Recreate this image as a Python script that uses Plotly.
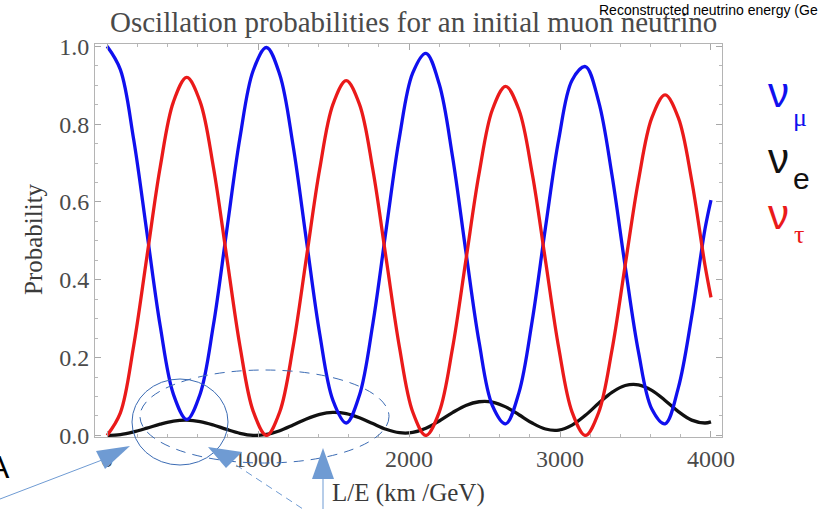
import plotly.graph_objects as go

# ---- data ----
le_km_per_gev = [0, 88, 176, 264, 352, 440, 528, 616, 704, 792, 880, 968,
                 1056, 1144, 1232, 1320, 1408, 1496, 1584, 1672, 1760, 1848, 1936, 2024,
                 2112, 2200, 2288, 2376, 2464, 2552, 2640, 2728, 2816, 2904, 2992, 3080,
                 3168, 3256, 3344, 3432, 3520, 3608, 3696, 3784, 3872, 3960, 4000]

p_mu = [1.000, 0.940, 0.761, 0.521, 0.281, 0.105, 0.041, 0.106, 0.283, 0.525, 0.765, 0.938,
        0.997, 0.927, 0.745, 0.502, 0.262, 0.090, 0.032, 0.104, 0.286, 0.528, 0.765, 0.931,
        0.982, 0.903, 0.717, 0.474, 0.240, 0.077, 0.030, 0.110, 0.295, 0.535, 0.762, 0.913,
        0.948, 0.858, 0.670, 0.434, 0.214, 0.068, 0.030, 0.123, 0.305, 0.530, 0.605]

p_tau = [0.000, 0.058, 0.230, 0.460, 0.690, 0.858, 0.920, 0.858, 0.690, 0.460, 0.230, 0.062,
         0.000, 0.061, 0.228, 0.456, 0.684, 0.851, 0.912, 0.851, 0.684, 0.456, 0.228, 0.061,
         0.000, 0.060, 0.224, 0.449, 0.673, 0.837, 0.897, 0.837, 0.673, 0.449, 0.224, 0.060,
         0.000, 0.059, 0.219, 0.438, 0.656, 0.816, 0.875, 0.816, 0.656, 0.438, 0.355]

p_e = [0.000, 0.0024, 0.0093, 0.0188, 0.029, 0.0369, 0.0393, 0.0356, 0.0268, 0.0155, 0.0055, 0.0002,
       0.0026, 0.0122, 0.0268, 0.0423, 0.0542, 0.0592, 0.0562, 0.0455, 0.0304, 0.0158, 0.0070, 0.0076,
       0.0185, 0.0372, 0.0587, 0.0770, 0.0866, 0.0857, 0.0734, 0.0532, 0.0318, 0.0165, 0.0139, 0.0266,
       0.0517, 0.0826, 0.1108, 0.1283, 0.1301, 0.1158, 0.0900, 0.0613, 0.0393, 0.0320, 0.0350]

x_ticks = [0, 1000, 2000, 3000, 4000]
y_ticks = [0.0, 0.2, 0.4, 0.6, 0.8, 1.0]
y_tick_text = ["0.0", "0.2", "0.4", "0.6", "0.8", "1.0"]

# ---- layout geometry (pixels) ----
W, H = 822, 509
L, R, T, B = 95, 100, 44, 72
PW, PH = W - L - R, H - T - B


def px(x, y):
    return (x - L) / PW, (H - B - y) / PH


SERIF = "Liberation Serif, Times New Roman, serif"
SANS = "Liberation Sans, Arial, sans-serif"
BLUE = "#1010ee"
RED = "#ea1a1a"
BLACK = "#111111"
ANN = "#6f9bd3"

fig = go.Figure()
fig.add_trace(go.Scatter(x=le_km_per_gev, y=p_e, mode="lines",
                         line=dict(color=BLACK, width=3.3, shape="spline"), showlegend=False))
fig.add_trace(go.Scatter(x=le_km_per_gev, y=p_mu, mode="lines",
                         line=dict(color=BLUE, width=3.3, shape="spline"), showlegend=False))
fig.add_trace(go.Scatter(x=le_km_per_gev, y=p_tau, mode="lines",
                         line=dict(color=RED, width=3.3, shape="spline"), showlegend=False))

axis_common = dict(showgrid=False, zeroline=False, showline=True, linecolor="#b4b4b4",
                   linewidth=1, mirror="allticks", ticks="inside", tickcolor="#a8a8a8",
                   ticklen=6, tickwidth=1,
                   tickfont=dict(family=SERIF, size=24, color="#4a4a4a"))

fig.update_xaxes(range=[-80, 4073], tickvals=x_ticks, ticktext=[str(v) for v in x_ticks],
                 minor=dict(dtick=200, ticks="inside", ticklen=3, tickcolor="#b8b8b8"),
                 **axis_common)
fig.update_yaxes(range=[-0.004, 1.006], tickvals=y_ticks, ticktext=y_tick_text,
                 minor=dict(dtick=0.05, ticks="inside", ticklen=3, tickcolor="#b8b8b8"),
                 **axis_common)

annotations = []


def add_text(x, y, text, size, color, family=SERIF, xanchor="center", yanchor="middle", angle=0):
    xp, yp = px(x, y)
    annotations.append(dict(x=xp, y=yp, xref="paper", yref="paper", text=text, showarrow=False,
                            xanchor=xanchor, yanchor=yanchor, textangle=angle,
                            font=dict(family=family, size=size, color=color)))


add_text(413, 22, "Oscillation probabilities for an initial muon neutrino", 29, "#4a4a4a")
add_text(33, 239, "Probability", 25, "#3a3a3a", angle=-90)
add_text(408, 493, "L/E (km /GeV)", 25, "#3a3a3a")
add_text(597, 10, "Reconstructed neutrino energy (Ge", 14, "#000000", family=SANS, xanchor="left")

# neutrino flavour labels
add_text(766, 92, "ν", 42, BLUE, family=SANS, xanchor="left")
add_text(791, 117, "μ", 26, BLUE, family=SERIF, xanchor="left")
add_text(766, 158, "ν", 42, BLACK, family=SANS, xanchor="left")
add_text(791, 178, "e", 30, BLACK, family=SANS, xanchor="left")
add_text(766, 214, "ν", 42, RED, family=SANS, xanchor="left")
add_text(792, 235, "τ", 26, RED, family=SERIF, xanchor="left")

# slide fragments at the left edge
add_text(12, 467, "A", 32, "#000000", family=SANS, xanchor="right")
add_text(0, 505, "ms", 22, "#000000", family=SANS, xanchor="left", yanchor="top")

shapes = []


def line(x0, y0, x1, y1, color, width=1, dash="solid"):
    a, b = px(x0, y0)
    c, d = px(x1, y1)
    shapes.append(dict(type="line", xref="paper", yref="paper", x0=a, y0=b, x1=c, y1=d,
                       line=dict(color=color, width=width, dash=dash)))


def tri(p1, p2, p3, color):
    pts = [px(*p) for p in (p1, p2, p3)]
    path = "M {} {} L {} {} L {} {} Z".format(pts[0][0], pts[0][1], pts[1][0], pts[1][1],
                                              pts[2][0], pts[2][1])
    shapes.append(dict(type="path", xref="paper", yref="paper", path=path,
                       fillcolor=color, line=dict(width=0)))


def ellipse(x0, y0, x1, y1, color, width=1, dash="solid"):
    a, b = px(x0, y1)
    c, d = px(x1, y0)
    shapes.append(dict(type="circle", xref="paper", yref="paper", x0=a, y0=b, x1=c, y1=d,
                       line=dict(color=color, width=width, dash=dash)))


ellipse(132, 379, 228, 465, "#3c6cb4", 1)
ellipse(140, 370, 389, 463, "#3c6cb4", 1, dash="10px,7px")
line(0, 499, 102, 460, ANN, 1)
tri((96, 451), (105, 469), (130, 446), ANN)
line(236, 465, 306, 511, ANN, 1, dash="7px,5px")
tri((208, 447), (226, 468), (242, 452), ANN)
line(323, 478, 323, 511, ANN, 1)
tri((323, 448), (312, 479), (334, 479), ANN)

fig.update_layout(width=W, height=H, margin=dict(l=L, r=R, t=T, b=B),
                  plot_bgcolor="white", paper_bgcolor="white",
                  annotations=annotations, shapes=shapes, showlegend=False)

fig.write_html("out.html", config={"displayModeBar": False},
               post_script="document.body.style.margin='0px';document.body.style.overflow='hidden';")
